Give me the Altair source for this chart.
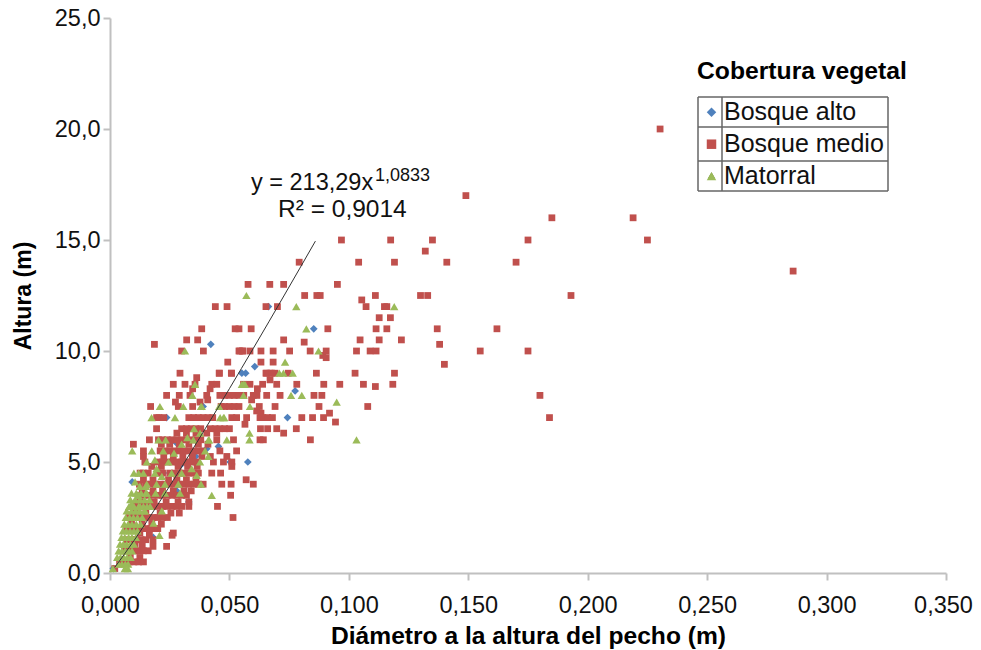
import altair as alt
import pandas as pd

series_names = ["Bosque alto", "Bosque medio", "Matorral"]
series_colors = ["#4f81bd", "#c0504d", "#9bbb59"]
series_shapes = ["diamond", "square", "triangle-up"]
series_sizes = [60, 46, 70]

blue_x = [.0422,.0663,.0853,.0606,.0552,.0568,.0775,.0743,.0093,.0577,.039,.0359,.0279,.0223,.0279,.0181,.0014,.0237,.0454,.0503,.0405,.0300,.0330]
blue_y = [10.3,12,11,9.3,9,9,8.2,7,4.1,5,7.5,5.25,5.85,4.5,3.7,1.6,.2,7,5.7,5,5.6,4.9,3.2]

red_rows = [
 (20,[.2303]),(17,[.149]),(16,[.185,.219]),
 (15,[.225,.175,.0969,.1175,.135]),(14.5,[.132]),
 (14,[.0792,.1041,.1191,.141,.170]),(13.6,[.286]),
 (13,[.0578,.0669,.0727,.0952]),
 (12.5,[.0815,.0866,.0880,.1111,.193,.130,.133]),(12.3,[.1054]),
 (12,[.0441,.0490,.0653,.0701,.1072,.1149,.1159]),
 (11.5,[.1127,.1174]),
 (11,[.0384,.0524,.0540,.0591,.0912,.1114,.1159,.162,.137]),
 (10.5,[.0727,.1047,.1127,.1220,.0321,.0367]),(10.4,[.0813]),(10.3,[.0186,.138]),
 (10,[.0300,.0391,.0544,.0556,.0586,.0632,.0683,.0752,.0540,.0554,.0838,.0905,.1032,.1089,.1114,.155,.175]),
 (9.8,[.0891]),(9.7,[.0905]),
 (9.5,[.0493,.0632,.0683]),(9.4,[.140]),
 (9,[.0293,.0458,.0509,.0656,.0670,.0691,.0457,.0508,.0653,.0677,.0746,.0864,.1026,.1191]),
 (8.8,[.0363]),(8.7,[.0670]),
 (8.5,[.0265,.0314,.0356,.0426,.0447,.0559,.0639,.0698,.0782,.0586,.0895,.0962,.1061,.1184]),
 (8.4,[.1111]),(8.3,[.0346,.0419,.0617]),
 (8,[.0237,.0290,.0335,.0405,.046,.048,.050,.052,.054,.056,.060,.0615,.0656,.0712,.0854,.0887,.18]),
 (7.8,[.0593,.0409]),(7.7,[.0274,.0377]),
 (7.5,[.0170,.0286,.0346,.0465,.048,.05,.052,.054,.0625,.0691,.0875,.1079]),
 (7.3,[.0614]),(7.2,[.0632,.0919]),
 (7,[.0195,.0205,.0225,.033,.035,.037,.039,.041,.043,.051,.053,.0572,.0628,.064,.066,.068,.0803,.0848,.0894,.184]),
 (6.8,[.0944]),(6.7,[.0565]),
 (6.5,[.0195,.030,.032,.034,.036,.038,.042,.044,.046,.048,.05,.063,.066,.0698,.078]),
 (6.3,[.0727,.0405,.0447,.028,.032,.036]),
 (6,[.0165,.0203,.022,.024,.026,.028,.030,.032,.034,.036,.038,.0447,.0517,.0628,.0642,.0839]),
 (5.8,[.0098,.0215,.025,.029,.033,.037,.041]),
 (5.5,[.0140,.021,.023,.025,.027,.029,.031,.033,.035,.037,.039,.046,.053]),
 (5.25,[.014,.0489,.0225,.0265,.0305,.0345,.0385,.042]),
 (5,[.0146,.02,.022,.024,.026,.028,.030,.032,.034,.036,.0433,.0475,.051]),
 (4.8,[.051,.0175,.0215,.0285,.0325,.0365]),
 (4.5,[.0126,.014,.016,.020,.022,.025,.027,.029,.031,.033,.035,.037,.0426,.0463]),
 (4.2,[.057,.014,.018,.0245,.028,.032,.036]),
 (4,[.0123,.015,.017,.019,.021,.023,.025,.027,.029,.031,.033,.035,.037,.039,.0468,.0507,.060]),
 (3.7,[.0135,.018,.022,.0265,.031,.034]),
 (3.5,[.012,.014,.016,.018,.020,.022,.024,.026,.028,.030,.032,.0505]),
 (3.2,[.0125,.0185,.0235,.0285,.033]),
 (3,[.010,.012,.014,.016,.018,.020,.022,.024,.026,.028,.030,.033,.045]),
 (2.7,[.0105,.015,.021,.0255,.029]),
 (2.5,[.008,.010,.012,.014,.016,.018,.020,.022,.024,.0515]),
 (2.2,[.009,.0135,.0175,.0215]),
 (2,[.007,.009,.011,.013,.015,.017,.019,.020]),
 (1.8,[.0265,.0125]),(1.7,[.026,.0165]),
 (1.5,[.0069,.009,.011,.013,.015,.018]),
 (1.2,[.0237,.018,.0105,.0135]),
 (1,[.006,.008,.010,.012,.014,.016]),
 (.7,[.0085,.0125]),
 (.5,[.004,.006,.008,.010,.012,.014]),
 (.2,[.002]),
]

green_rows = [
 (12.5,[.0571]),(12,[.0780,.1190]),(11,[.0822]),(10,[.0873,.0314]),(9.5,[.0733]),
 (9,[.0709,.0726,.0765]),(8.5,[.0552,.0565,.0356,.0559]),(8,[.0559,.0758,.0803,.0345]),(7.7,[.0949]),
 (7.5,[.0586,.0384,.0209,.0307,.0381,.0457]),(7,[.0461,.0478,.0174,.0272,.0475]),
 (6.5,[.0352]),(6.3,[.0584,.0377]),(6.1,[.0324]),(6,[.0584,.1032,.0412,.0489,.0203,.0233,.0415,.0349]),
 (5.8,[.0300]),(5.5,[.0093,.0175,.0223,.0398]),(5.4,[.0268]),(5.25,[.0412]),(5.1,[.0188]),
 (5,[.0154,.0245,.0377]),(4.7,[.0342,.0195]),(4.5,[.0258,.03,.0188,.0100,.0120,.0140]),(4.4,[.0363]),(4.35,[.0217]),
 (4.1,[.0105]),(4,[.0286,.0381,.0154,.0195,.0230]),(3.9,[.0125,.0150]),
 (3.6,[.0154,.0191,.0230,.0293,.0090,.0110,.0130,.0150]),(3.5,[.0426,.0119]),
 (3.3,[.0085,.0105,.0125,.0145,.0165]),(3.1,[.0091]),
 (3,[.0126,.0168,.0080,.0100,.0120,.0140,.0155]),
 (2.8,[.0146,.0217,.0070,.0090,.0108,.0125,.0145]),
 (2.5,[.0066,.0082,.0098,.0115,.0135]),(2.25,[.0182]),
 (2.2,[.0060,.0076,.0092,.0110,.0128]),
 (1.9,[.0054,.0068,.0084,.0100,.0115]),(1.7,[.0207]),
 (1.6,[.0048,.0062,.0078,.0092,.0108]),
 (1.3,[.0042,.0056,.0070,.0085,.0100]),
 (1,[.0036,.0050,.0064,.0078,.0092]),
 (.7,[.0030,.0044,.0058,.0072,.0086]),
 (.4,[.0036,.0050,.0064,.0076]),
 (.2,[.0012,.0062,.0075]),
]

fit_x = [0.002,0.01,0.02,0.04,0.06,0.086]
fit_y = [0.254,1.452,3.08,6.52,10.12,14.95]

x_ticks = [0,.05,.1,.15,.2,.25,.3,.35]
y_ticks = [0,5,10,15,20,25]

blue_df = pd.DataFrame({"d":blue_x,"h":blue_y,"serie":series_names[0]})
red_df = pd.DataFrame([{"d":x,"h":y,"serie":series_names[1]} for y,xs in red_rows for x in xs])
green_df = pd.DataFrame([{"d":x,"h":y,"serie":series_names[2]} for y,xs in green_rows for x in xs])
fit = pd.DataFrame({"d":fit_x,"h":fit_y})

FONT = "Liberation Sans"
x_scale = alt.Scale(domain=[0,.35], nice=False, zero=False)
y_scale = alt.Scale(domain=[0,25], nice=False, zero=False)

def series_layer(frame, size):
    return alt.Chart(frame).mark_point(filled=True, opacity=1, strokeWidth=0, size=size).encode(
        x=alt.X("d:Q", scale=x_scale, title="Diámetro a la altura del pecho (m)",
                axis=alt.Axis(values=x_ticks, labelExpr="replace(format(datum.value,'.3f'),'.',',')", grid=False,
                              labelFlush=False, labelOverlap=False, labelPadding=13, titlePadding=8, titleFontSize=24.6,
                              labelOffset={"condition":{"test":"datum.value>=0.35","value":-3},"value":0})),
        y=alt.Y("h:Q", scale=y_scale, title="Altura (m)",
                axis=alt.Axis(values=y_ticks, labelExpr="replace(format(datum.value,'.1f'),'.',',')", grid=False,
                              labelFlush=False, labelOverlap=False, labelPadding=3, titlePadding=19, titleFontSize=23)),
        color=alt.Color("serie:N", scale=alt.Scale(domain=series_names, range=series_colors),
            legend=alt.Legend(title="Cobertura vegetal", orient="none", legendX=587, legendY=41,
                titleFontSize=24.7, titleFont=FONT, titleFontWeight="bold", titleColor="#000000", titlePadding=16,
                titleLimit=400, labelFontSize=25, labelFont=FONT, labelColor="#111111", labelOffset=0, symbolOffset=2,
                rowPadding=6, padding=0, symbolStrokeWidth=0, symbolSize=90, labelLimit=300)),
        shape=alt.Shape("serie:N", scale=alt.Scale(domain=series_names, range=series_shapes), legend=None),
    )

blue = series_layer(blue_df, series_sizes[0])
red = series_layer(red_df, series_sizes[1])
green = series_layer(green_df, series_sizes[2])

line = alt.Chart(fit).mark_line(color="#333333", strokeWidth=1, interpolate="monotone").encode(
    x=alt.X("d:Q", scale=x_scale), y=alt.Y("h:Q", scale=y_scale))

eq1 = alt.Chart(pd.DataFrame({"t":["y = 213,29x"]})).mark_text(font=FONT, fontSize=23.5, align="left", baseline="alphabetic", color="#111111").encode(
    text="t:N", x=alt.value(141), y=alt.value(172))
eq2 = alt.Chart(pd.DataFrame({"t":["1,0833"]})).mark_text(font=FONT, fontSize=18, align="left", baseline="alphabetic", color="#111111").encode(
    text="t:N", x=alt.value(265), y=alt.value(163))
eq3 = alt.Chart(pd.DataFrame({"t":["R² = 0,9014"]})).mark_text(font=FONT, fontSize=24.5, align="left", baseline="alphabetic", color="#111111").encode(
    text="t:N", x=alt.value(168), y=alt.value(199))

box_h = pd.DataFrame({"y":[79,109,143,173]})
h_rules = alt.Chart(box_h).mark_rule(color="#666666", strokeWidth=1.5).encode(
    y=alt.Y("y:Q", scale=None), x=alt.value(588), x2=alt.value(778))
box_v = pd.DataFrame({"x":[588,612,778]})
v_rules = alt.Chart(box_v).mark_rule(color="#666666", strokeWidth=1.5).encode(
    x=alt.X("x:Q", scale=None), y=alt.value(79), y2=alt.value(173))

legend_dark = alt.Chart(pd.DataFrame({"t":["Matorral"]})).mark_point(
    filled=True, shape="triangle-up", color="#4f6228", size=55, opacity=1, strokeWidth=0).encode(
    x=alt.value(601.5), y=alt.value(157.5))

chart = alt.layer(blue, red, green, line, eq1, eq2, eq3, h_rules, v_rules, legend_dark).resolve_scale(x="shared", y="shared").properties(
    width=836, height=555,
    padding={"left":102,"top":10,"right":27,"bottom":76},
    autosize=alt.AutoSizeParams(type="none"),
).configure_view(stroke=None).configure_axis(
    domainColor="#c0c0c0", domainWidth=2, tickColor="#c0c0c0", tickWidth=2, tickSize=7,
    labelFont=FONT, labelFontSize=23.5, labelColor="#111111",
    titleFont=FONT, titleFontWeight="bold", titleColor="#000000",
)
chart.save("out.html", embed_options={"renderer":"svg","actions":False})
